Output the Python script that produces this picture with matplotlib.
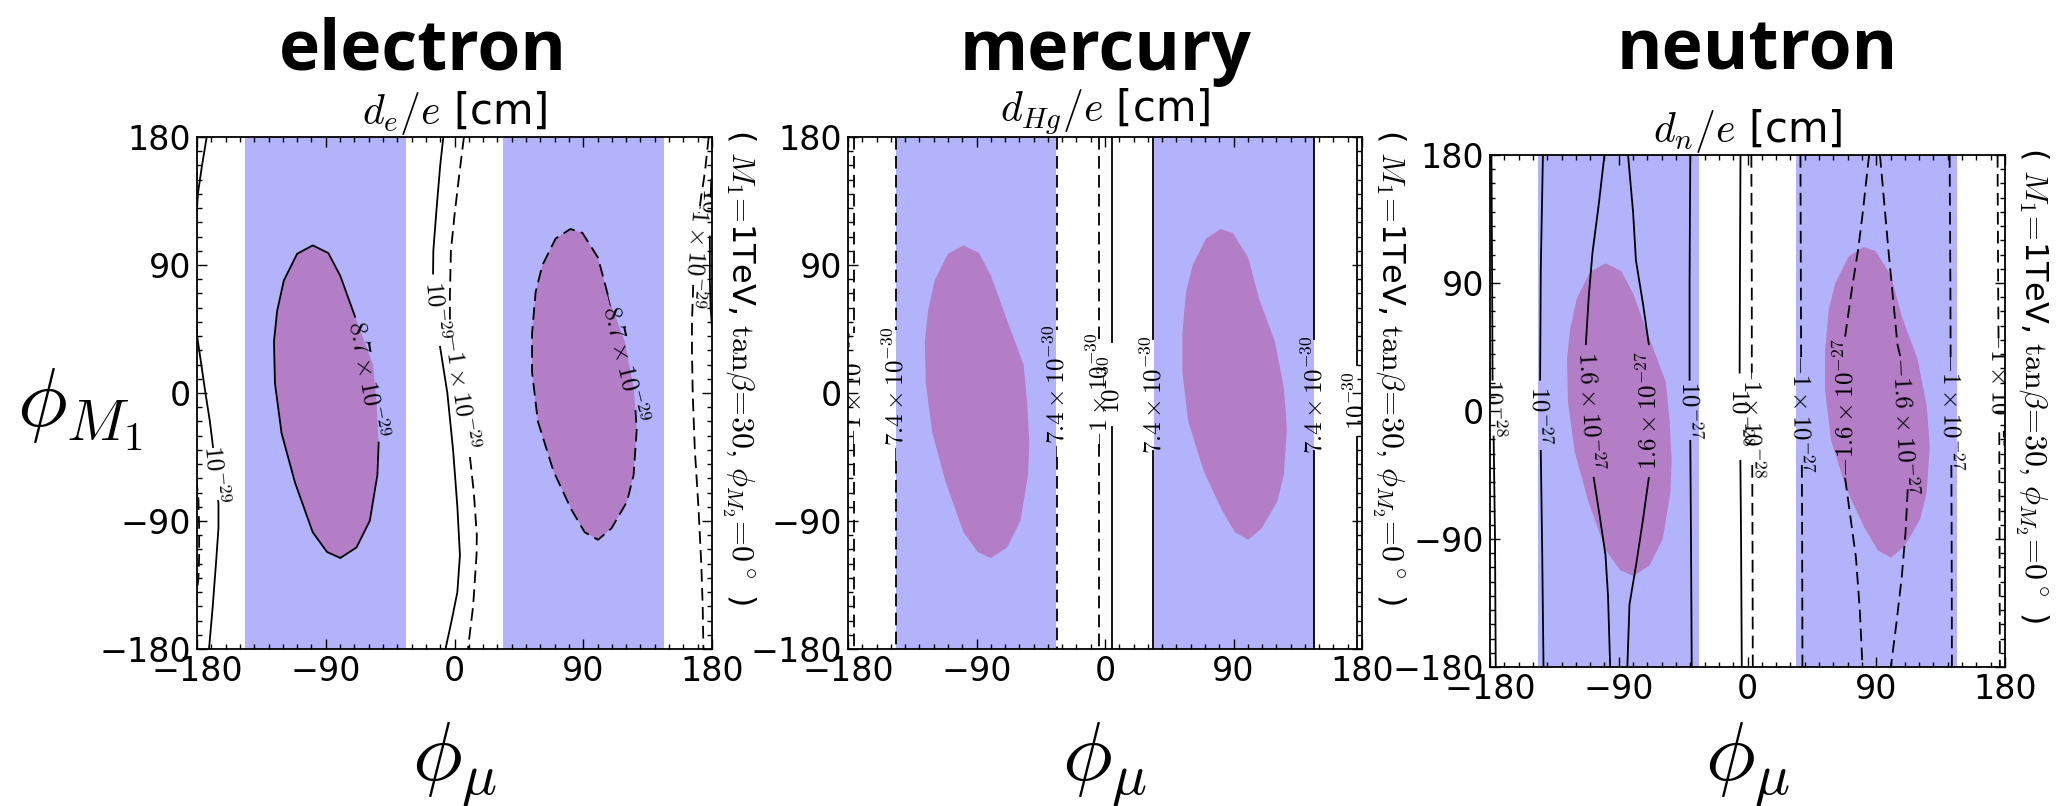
import numpy as np
import matplotlib
matplotlib.use("Agg")
import matplotlib.pyplot as plt
from matplotlib.patches import Polygon
from matplotlib.ticker import MultipleLocator

plt.rcParams['mathtext.fontset'] = 'cm'
plt.rcParams['font.family'] = ['DejaVu Sans']

# ---------------- data ----------------
panel_titles = ['electron', 'mercury', 'neutron']
panel_units = [r'$d_e/e$ [cm]', r'$d_{Hg}/e$ [cm]', r'$d_n/e$ [cm]']
side_text = r'( $M_1\!=\!$1TeV, $\tan\!\beta\!=\!30,\,\phi_{M_2}\!=\!0^\circ$ )'
tick_vals = [-180, -90, 0, 90, 180]

# blue bands in phi_mu
band_lo = [-146.5, 34.0]
band_hi = [-34.0, 146.5]

# purple regions (outline vertices: phi_mu, phi_M1); first 2 vertices lie in the label gap
ellL_mu = [-57, -54.5, -53, -53.9, -59.2, -68.5, -79.8, -89.1, -99.1, -111.5, -120.9,
           -125.5, -126.2, -124, -119.3, -110, -99.1, -88.2, -79.8, -69.5]
ellL_m1 = [20, -6.7, -34.9, -57.6, -89.8, -108.6, -116, -111.8, -97.9, -63, -28.2,
           6.7, 36.2, 57.6, 79.1, 97.9, 103.8, 98.4, 82.3, 53.6]
ellR_mu = [119, 125.2, 126.5, 127.4, 125.2, 120.6, 109.7, 100.3, 91, 81.6, 69.2, 58.3,
           54.2, 54.2, 56.7, 61.4, 70.7, 81, 89.4, 100.3, 108]
ellR_m1 = [36.2, 4, -12, -25.5, -57.6, -76.4, -95.2, -103.2, -97.9, -81.8, -55, -20.1,
           14.7, 41.6, 71, 89.8, 108.6, 115.3, 112.6, 95.2, 66]

# electron contour lines
e_mu = [
    [-173.2, -176.5, -179.3, -180.6, -181, -181, -180, -177, -174.4, -171, -168.8, -165, -165, -166.6, -169, -171.6],
    [179.5, 178.8, 178.5, 178.5, 179, 180.5],
    [-7.8, -10, -12.5, -14.8, -15, -10.1, -5, -1, 2, 3.8, 2, -2, -6.3],
    [6.6, 3.5, 0, -2.5, -3.2, -3.2, 10.8, 13.5, 15.6, 15.4, 13, 9.4],
    [177.7, 175, 172, 169, 167, 166, 166, 166.5, 168, 170.5, 172.5, 173.5, 174],
    [-180.5, -179, -178.5, -178.5, -179, -180.5],
]
e_m1 = [
    [180, 160, 140.7, 120, 110, 70, 40.7, 20, 2, -20, -38, -78, -95, -118, -150, -180],
    [150, 130, 110, 80, 60, 40],
    [180, 160, 130, 100, 84, 32.5, 0, -40, -80, -114, -140, -160, -180],
    [180, 155, 125, 100, 70, 49, -45, -70, -100, -114, -150, -180],
    [180, 155, 135, 110, 80, 50, 30, 0, -40, -80, -120, -150, -180],
    [-60, -75, -95, -115, -130, -145],
]
e_dash = [False, False, False, True, True, True]
e_gap = [(-38, -76), (138, 110), (84, 32.5), (49, -45), (126.5, 76), None]
e_text = [r'$10^{-29}$', r'$10^{-29}$', r'$10^{-29}$', r'$-1\times10^{-29}$',
          r'$-1\times10^{-29}$', None]
e_up = [False, False, False, False, False, False]
e_ell_text = [r'$8.7\times10^{-29}$', r'$-8.7\times10^{-29}$']
e_ell_dash = [False, True]

# mercury contour lines (straight)
m_x = [-176, -146.5, -33.8, -4.1, 4.7, 33.8, 146.5, 176.2]
m_dash = [True, True, True, True, False, False, False, False]
m_gap = [(42, -36), (44, -48), (44, -45), (38, -36), (36, -24), (38, -41), (38, -41), (20, -31)]
m_text = [r'$-1\times10^{-30}$', r'$-7.4\times10^{-30}$', r'$-7.4\times10^{-30}$', r'$-1\times10^{-30}$',
          r'$10^{-30}$', r'$7.4\times10^{-30}$', r'$7.4\times10^{-30}$', r'$10^{-30}$']

# neutron contour lines
n_mu = [
    [-179, -178.5, -178.2, -177.5, -176.5, -176],
    [-143, -144.5, -145, -144.5, -143.5, -142.6],
    [-100, -104, -108.4, -111, -113, -107.5, -103, -99.3, -97.5, -96],
    [-83.5, -80, -78, -73, -69, -69, -73, -78, -82.5, -84],
    [-40, -40.5, -40.5, -40, -39.5, -39],
    [-4.9, -5.3, -5.5, -5, -4.5, -4],
    [2.7, 3, 3, 3.3, 3.5, 3.7],
    [37, 37.3, 37.5, 38, 38.2, 38.4],
    [85, 80.4, 77.4, 72.8, 68.2, 68.2, 72, 75.8, 78.5, 80.4],
    [92.6, 98.7, 104.8, 108, 112, 110.5, 107.8, 104, 100.2],
    [141.3, 141.8, 142, 142.5, 142.7, 142.9],
    [174.8, 175.2, 175.5, 176, 176.2, 176.4],
]
n_m1 = [
    [180, 90, 20, -15, -90, -180],
    [180, 100, 20, -28, -100, -180],
    [180, 145, 111, 80, 47, -47, -76, -101, -130, -180],
    [180, 140, 106, 75, 47, -47, -76, -109, -136, -180],
    [180, 90, 20, -19, -90, -180],
    [180, 90, 25, -33, -90, -180],
    [180, 90, 25, -36, -90, -180],
    [180, 90, 33, -36, -90, -180],
    [180, 138, 114, 84.6, 52, -47, -75, -103, -140, -180],
    [180, 111, 47, 33, -55, -85, -117, -150, -180],
    [180, 90, 36, -36, -90, -180],
    [180, 90, 47, -15, -90, -180],
]
n_dash = [False] * 6 + [True] * 6
n_gap = [(22, -18), (22, -28), (47, -47), (47, -47), (22, -21), (27, -35),
         (27, -38), (35, -38), (52, -47), (35, -55), (38, -38), (47, -15)]
n_text = [r'$10^{-28}$', r'$10^{-27}$', r'$1.6\times10^{-27}$', r'$1.6\times10^{-27}$',
          r'$10^{-27}$', r'$10^{-28}$', r'$-1\times10^{-28}$', r'$-1\times10^{-27}$',
          r'$-1.6\times10^{-27}$', r'$-1.6\times10^{-27}$', r'$-1\times10^{-27}$',
          r'$-1\times10^{-28}$']
n_up = [False, False, False, True, False, False, False, False, True, False, False, False]

# ---------------- styling / layout ----------------
W, H = 2060, 806
BLUE = '#b3b3fc'
PURPLE = '#b47ec6'
LW = 1.3
DASH = (0, (7, 3.5))
LFS = 18

fig = plt.figure(figsize=(W / 100, H / 100), dpi=100)
ax_px = [(197, 712, 137, 649), (848, 1362, 137, 649), (1490, 2005, 155, 667)]
title_x = [423, 1106, 1757]


def rect(l, r, t, b):
    return [l / W, 1 - b / H, (r - l) / W, (b - t) / H]


def label_at(ax, p_top, p_bot, text, up):
    a = ax.transData.transform(p_top)
    b = ax.transData.transform(p_bot)
    v = (a - b) if up else (b - a)
    ang = np.degrees(np.arctan2(v[1], v[0]))
    xc = 0.5 * (p_top[0] + p_bot[0])
    yc = 0.5 * (p_top[1] + p_bot[1])
    ax.text(xc, yc, text, rotation=ang, rotation_mode='anchor', ha='center',
            va='center', fontsize=LFS, clip_on=True, zorder=5)


def draw_path(ax, xs, ys, dash, gap, text, up):
    xs = np.asarray(xs, float)
    ys = np.asarray(ys, float)
    ls = DASH if dash else '-'
    kw = dict(color='black', lw=LW, linestyle=ls, zorder=4, clip_on=True)
    if gap is None:
        ax.plot(xs, ys, **kw)
        return
    gt, gb = gap
    xt = np.interp(gt, ys[::-1], xs[::-1])
    xb = np.interp(gb, ys[::-1], xs[::-1])
    m1 = ys > gt
    m2 = ys < gb
    ax.plot(np.r_[xs[m1], xt], np.r_[ys[m1], gt], **kw)
    ax.plot(np.r_[xb, xs[m2]], np.r_[gb, ys[m2]], **kw)
    if text:
        label_at(ax, (xt, gt), (xb, gb), text, up)


axes = []
for i in range(3):
    ax = fig.add_axes(rect(*ax_px[i]))
    axes.append(ax)
    ax.set_xlim(-180, 180)
    ax.set_ylim(-180, 180)
    for lo, hi in zip(band_lo, band_hi):
        ax.axvspan(lo, hi, color=BLUE, lw=0, zorder=1)
    for mu, m1 in ((ellL_mu, ellL_m1), (ellR_mu, ellR_m1)):
        ax.add_patch(Polygon(np.c_[mu, m1], closed=True, facecolor=PURPLE,
                             edgecolor='none', zorder=2))
    ax.set_xticks(tick_vals)
    ax.set_yticks(tick_vals)
    ax.xaxis.set_minor_locator(MultipleLocator(10))
    ax.yaxis.set_minor_locator(MultipleLocator(10))
    ax.tick_params(which='both', direction='in', top=True, right=True,
                   labelsize=24, width=1.0, pad=4)
    ax.tick_params(which='major', length=7)
    ax.tick_params(which='minor', length=3.5)
    for s in ax.spines.values():
        s.set_linewidth(1.3)
    ax.set_title(panel_units[i], fontsize=30, pad=6)
    ax.text(1.0 + 8 / 515, 1.0 + 8 / 512, side_text, transform=ax.transAxes,
            rotation=-90, ha='left', va='top', fontsize=23)
    fig.text(title_x[i] / W, 1 - 70 / H, panel_titles[i], fontsize=50,
             fontweight='bold', family=['Open Sans', 'DejaVu Sans'],
             ha='center', va='baseline')
    xc = (ax_px[i][0] + ax_px[i][1]) / 2
    fig.text(xc / W, 1 - 765 / H, r'$\phi_\mu$', fontsize=60, ha='center', va='center')

fig.text(80 / W, 1 - 410 / H, r'$\phi_{M_1}$', fontsize=60, ha='center', va='center')

# electron
ax = axes[0]
for xs, ys, d, g, t, u in zip(e_mu, e_m1, e_dash, e_gap, e_text, e_up):
    draw_path(ax, xs, ys, d, g, t, u)
for (mu, m1), txt, d in zip(((ellL_mu, ellL_m1), (ellR_mu, ellR_m1)), e_ell_text, e_ell_dash):
    ax.plot(mu[2:], m1[2:], color='black', lw=LW, linestyle=DASH if d else '-', zorder=4)
    label_at(ax, (mu[-1], m1[-1]), (mu[2], m1[2]), txt, False)

# mercury
ax = axes[1]
for x, d, g, t in zip(m_x, m_dash, m_gap, m_text):
    draw_path(ax, [x, x], [180, -180], d, g, t, True)

# neutron
ax = axes[2]
for xs, ys, d, g, t, u in zip(n_mu, n_m1, n_dash, n_gap, n_text, n_up):
    draw_path(ax, xs, ys, d, g, t, u)

fig.savefig('out.png', dpi=100)
